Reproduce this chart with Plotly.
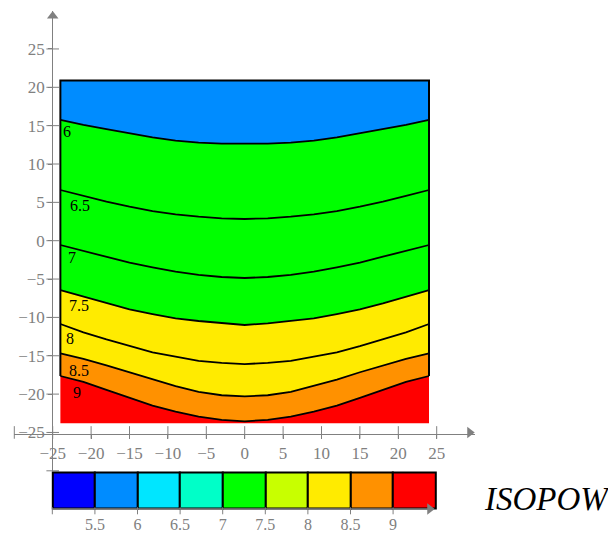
import plotly.graph_objects as go

# ---------------- data ----------------
x_pts = [-24, -21, -18, -15, -12, -9, -6, -3, 0, 3, 6, 9, 12, 15, 18, 21, 24]
level_names = ["6", "6.5", "7", "7.5", "8", "8.5", "9"]
lvl_6 = [15.74, 15.09, 14.56, 14.0, 13.48, 13.04, 12.78, 12.65, 12.61,
         12.65, 12.78, 13.04, 13.48, 14.0, 14.56, 15.09, 15.74]
lvl_6_5 = [6.61, 5.83, 5.08, 4.43, 3.87, 3.44, 3.13, 2.92, 2.83,
           2.92, 3.13, 3.44, 3.87, 4.43, 5.08, 5.83, 6.61]
lvl_7 = [-0.56, -1.30, -2.09, -2.87, -3.47, -4.04, -4.47, -4.73, -4.86,
         -4.73, -4.47, -4.04, -3.47, -2.87, -2.09, -1.30, -0.56]
lvl_7_5 = [-6.43, -7.30, -8.16, -8.94, -9.56, -10.12, -10.47, -10.77, -10.99,
           -10.77, -10.47, -10.12, -9.56, -8.94, -8.16, -7.30, -6.43]
lvl_8 = [-10.86, -11.94, -12.86, -13.73, -14.55, -15.12, -15.68, -15.94, -16.08,
         -15.94, -15.68, -15.12, -14.55, -13.73, -12.86, -11.94, -10.86]
lvl_8_5 = [-14.68, -15.4, -16.25, -17.15, -18.1, -18.95, -19.7, -20.15, -20.3,
           -20.15, -19.7, -18.95, -18.1, -17.15, -16.25, -15.4, -14.68]
lvl_9 = [-17.64, -18.4, -19.45, -20.5, -21.5, -22.3, -22.95, -23.35, -23.55,
         -23.35, -22.95, -22.3, -21.5, -20.5, -19.45, -18.4, -17.64]
y_top = 20.9
y_bottom = -23.8

label_x = [-23.1, -21.4, -22.5, -21.6, -22.7, -21.6, -21.9]
label_y = [14.3, 4.65, -2.17, -8.4, -12.7, -16.9, -19.8]

axis_ticks = [-25, -20, -15, -10, -5, 0, 5, 10, 15, 20, 25]

cbar_lo = [5.0, 5.5, 6.0, 6.5, 7.0, 7.5, 8.0, 8.5, 9.0]
cbar_colors = ["#0000ff", "#008cff", "#00e6ff", "#00ffc8", "#00ff00",
               "#c8ff00", "#ffeb00", "#ff9100", "#ff0000"]
cbar_ticks = [5.5, 6, 6.5, 7, 7.5, 8, 8.5, 9]

# region fill colours (top to bottom)
col_blue, col_green, col_yellow, col_orange, col_red = (
    "#008cff", "#00ff00", "#ffeb00", "#ff9100", "#ff0000")

GRAY = "#808080"
FONT = "Liberation Serif"
# the page body has an 8px margin; the figure is sized so it fills the window
OFF = 8
W, H = 616 - OFF, 536 - OFF


def fx(px):  # reference window pixel -> paper x
    return (px - OFF) / W


def fy(py):  # reference window pixel -> paper y
    return 1 - (py - OFF) / H


fig = go.Figure()


def band(lower, upper, color):
    xs = x_pts + x_pts[::-1]
    ys = list(lower) + list(upper)[::-1]
    fig.add_trace(go.Scatter(x=xs, y=ys, fill="toself", fillcolor=color,
                             mode="lines", line=dict(width=0, color=color),
                             hoverinfo="skip", showlegend=False))


band([y_bottom] * len(x_pts), lvl_9, col_red)
band(lvl_9, lvl_8_5, col_orange)
band(lvl_8_5, lvl_7_5, col_yellow)
band(lvl_7_5, lvl_6, col_green)
band(lvl_6, [y_top] * len(x_pts), col_blue)

for lv in [lvl_6, lvl_6_5, lvl_7, lvl_7_5, lvl_8, lvl_8_5, lvl_9]:
    fig.add_trace(go.Scatter(x=x_pts, y=lv, mode="lines",
                             line=dict(color="black", width=1.8),
                             hoverinfo="skip", showlegend=False))

# frame: left and right edges down to level 9, plus top
fig.add_trace(go.Scatter(x=[x_pts[0], x_pts[0], x_pts[-1], x_pts[-1]],
                         y=[lvl_9[0], y_top, y_top, lvl_9[-1]], mode="lines",
                         line=dict(color="black", width=2),
                         hoverinfo="skip", showlegend=False))

# tick crosses on the axes
fig.add_trace(go.Scatter(x=[-30] + axis_ticks, y=[-25] * (len(axis_ticks) + 1),
                         mode="markers", cliponaxis=False,
                         marker=dict(symbol="line-ns", size=9,
                                     line=dict(color=GRAY, width=1)),
                         hoverinfo="skip", showlegend=False))
fig.add_trace(go.Scatter(x=[-25] * (len(axis_ticks) + 1), y=[-30] + axis_ticks,
                         mode="markers", cliponaxis=False,
                         marker=dict(symbol="line-ew", size=9,
                                     line=dict(color=GRAY, width=1)),
                         hoverinfo="skip", showlegend=False))
# arrow heads
fig.add_trace(go.Scatter(x=[-25], y=[29.3], mode="markers", cliponaxis=False,
                         marker=dict(symbol="triangle-up", size=10, color=GRAY),
                         hoverinfo="skip", showlegend=False))
fig.add_trace(go.Scatter(x=[29.3], y=[-25], mode="markers", cliponaxis=False,
                         marker=dict(symbol="triangle-right", size=10, color=GRAY),
                         hoverinfo="skip", showlegend=False))

# contour labels
for name, lx, ly in zip(level_names, label_x, label_y):
    fig.add_annotation(x=lx, y=ly, text=name, showarrow=False,
                       font=dict(family=FONT, size=16, color="black"))

# ---------------- colour bar ----------------
fig.add_trace(go.Bar(x=[v + 0.25 for v in cbar_lo], y=[1] * len(cbar_lo),
                     width=0.5, marker=dict(color=cbar_colors,
                                            line=dict(color="black", width=2)),
                     xaxis="x2", yaxis="y2", hoverinfo="skip", showlegend=False))
fig.add_trace(go.Scatter(x=[5.0, 9.45], y=[0, 0], mode="lines",
                         line=dict(color=GRAY, width=1.2),
                         xaxis="x2", yaxis="y2", hoverinfo="skip", showlegend=False))
fig.add_trace(go.Scatter(x=[9.43], y=[0], mode="markers", cliponaxis=False,
                         marker=dict(symbol="triangle-right", size=10, color=GRAY),
                         xaxis="x2", yaxis="y2", hoverinfo="skip", showlegend=False))
fig.add_trace(go.Scatter(x=[5.0] + cbar_ticks, y=[-0.05] * (len(cbar_ticks) + 1),
                         mode="markers", cliponaxis=False,
                         marker=dict(symbol="line-ns", size=5,
                                     line=dict(color=GRAY, width=1)),
                         xaxis="x2", yaxis="y2", hoverinfo="skip", showlegend=False))

fig.add_annotation(x=fx(547), y=fy(499), xref="paper", yref="paper",
                   xanchor="center", yanchor="middle",
                   text="<i>ISOPOW</i>", showarrow=False,
                   font=dict(family=FONT, size=33, color="black"))

tickfont = dict(family=FONT, size=17, color=GRAY)
fig.update_layout(
    width=W, height=H, margin=dict(l=0, r=0, t=0, b=0, autoexpand=False),
    paper_bgcolor="white", plot_bgcolor="rgba(0,0,0,0)",
    font=dict(family=FONT, size=17, color=GRAY),
    bargap=0,
    xaxis=dict(domain=[fx(14.3), fx(475.1)], range=[-30, 30], anchor="free",
               position=fy(433.5), showgrid=False, zeroline=False,
               automargin=False,
               showline=True, linecolor=GRAY, linewidth=1.1,
               tickvals=axis_ticks, ticks="outside", ticklen=4, tickcolor=GRAY,
               tickfont=tickfont),
    yaxis=dict(domain=[fy(470.8), fy(10.6)], range=[-30, 30], anchor="free",
               position=fx(52.3), showgrid=False, zeroline=False,
               automargin=False,
               showline=True, linecolor=GRAY, linewidth=1.1,
               tickvals=axis_ticks, ticks="outside", ticklen=4, tickcolor=GRAY,
               tickfont=tickfont),
    xaxis2=dict(domain=[fx(43.8), fx(444.2)], range=[4.9, 9.6], anchor="y2",
                showgrid=False, zeroline=False, showline=False, automargin=False,
                tickvals=cbar_ticks, ticks="", ticklabelstandoff=1,
                tickfont=dict(family=FONT, size=16, color=GRAY)),
    yaxis2=dict(domain=[fy(511.9), fy(468.6)], range=[-0.08, 1.1],
                anchor="x2", showgrid=False, zeroline=False, showline=False,
                automargin=False, showticklabels=False, ticks=""),
)

fig.write_html("out.html")
